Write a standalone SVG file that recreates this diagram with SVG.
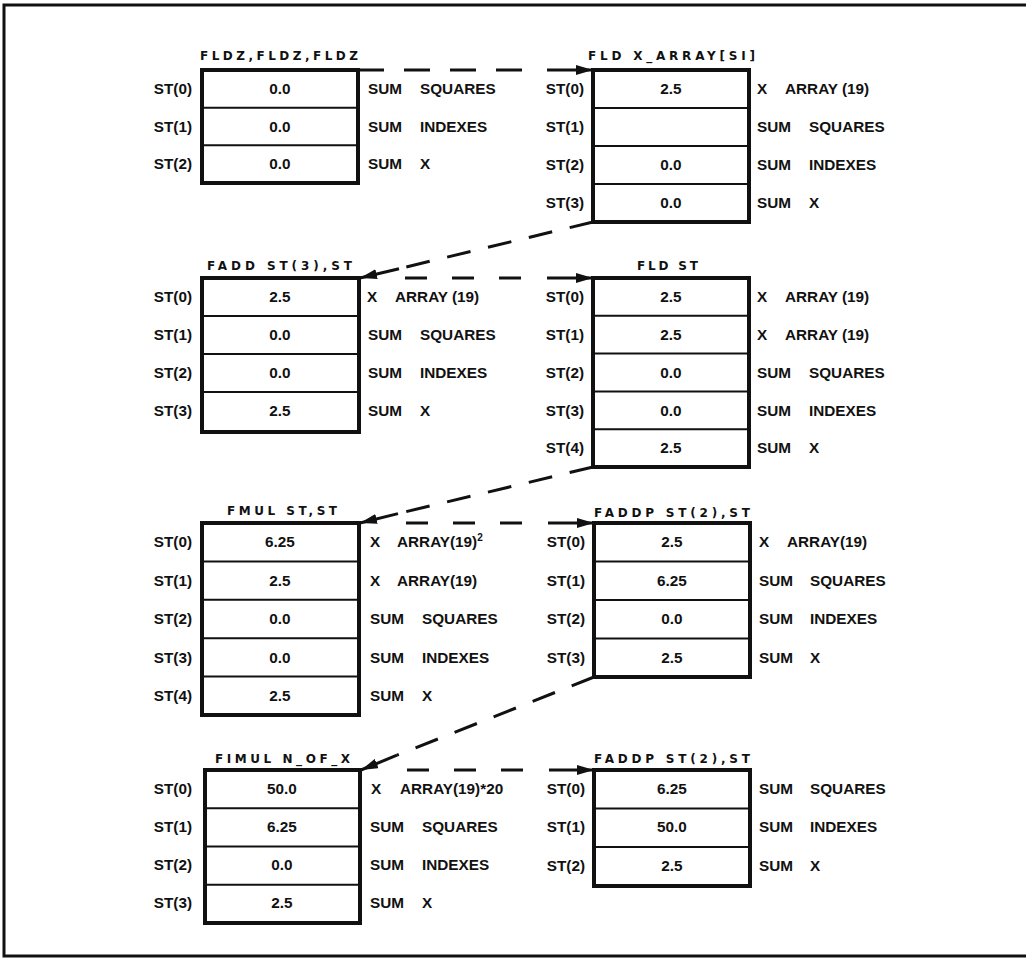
<svg xmlns="http://www.w3.org/2000/svg" width="1026" height="958" viewBox="0 0 1026 958">
<defs>
<style>
.frame{fill:none;stroke:#111;stroke-width:3}
.box{fill:#fff;stroke:#111;stroke-width:4}
.div{stroke:#111;stroke-width:2}
.t{font-family:"Liberation Sans",Arial,sans-serif;font-weight:bold;font-size:15.3px;fill:#111}
.v{text-anchor:middle}
.l{text-anchor:end}
.ttl{font-family:"DejaVu Sans","Liberation Sans",sans-serif;font-weight:bold;font-size:12px;fill:#111}
.dash{fill:none;stroke:#111;stroke-width:3;stroke-dasharray:26 20}
.dash2{fill:none;stroke:#111;stroke-width:3;stroke-dasharray:22 25}
.dd{fill:none;stroke:#111;stroke-width:3;stroke-dasharray:24 18}
.sol{fill:none;stroke:#111;stroke-width:3;marker-end:url(#ah)}
</style>
<marker id="ah" markerUnits="userSpaceOnUse" markerWidth="18" markerHeight="10" refX="17" refY="5" orient="auto">
<path d="M0,0 L17,5 L0,10 z" fill="#111"/>
</marker>
</defs>
<rect width="1026" height="958" fill="#fff"/>
<rect class="frame" x="4" y="5" width="1030" height="951"/>

<g id="connectors">
<path class="dash" d="M358,70 H540"/>
<path class="sol" d="M547,70 H593"/>
<path class="dd" d="M593,222 L399,268.7"/>
<path class="sol" d="M399,268.7 L360,278"/>
<path class="dash2" d="M405,278 H524"/>
<path class="sol" d="M547,278 H593"/>
<path class="dd" d="M593,467 L398,513.6"/>
<path class="sol" d="M398,513.6 L360,523"/>
<path class="dash2" d="M406,523 H525"/>
<path class="sol" d="M548,523 H594"/>
<path class="dd" d="M594,677 L397,755.2"/>
<path class="sol" d="M397,755.2 L361,770"/>
<path class="dash2" d="M407,770 H526"/>
<path class="sol" d="M549,770 H594"/>
</g>

<g id="s1">
<text class="ttl" x="200" y="60" textLength="158" lengthAdjust="spacing">FLDZ,FLDZ,FLDZ</text>
<rect class="box" x="202" y="70" width="156" height="113"/>
<line class="div" x1="202" y1="107.7" x2="358" y2="107.7"/>
<line class="div" x1="202" y1="145.3" x2="358" y2="145.3"/>
<text class="t l" x="192" y="94">ST(0)</text><text class="t v" x="280" y="94">0.0</text><text class="t" x="368" y="94">SUM</text><text class="t" x="420" y="94">SQUARES</text>
<text class="t l" x="192" y="132">ST(1)</text><text class="t v" x="280" y="132">0.0</text><text class="t" x="368" y="132">SUM</text><text class="t" x="420" y="132">INDEXES</text>
<text class="t l" x="192" y="169">ST(2)</text><text class="t v" x="280" y="169">0.0</text><text class="t" x="368" y="169">SUM</text><text class="t" x="420" y="169">X</text>
</g>

<g id="s2">
<text class="ttl" x="588" y="60" textLength="167" lengthAdjust="spacing">FLD X_ARRAY[SI]</text>
<rect class="box" x="593" y="70" width="156" height="152"/>
<line class="div" x1="593" y1="108" x2="749" y2="108"/>
<line class="div" x1="593" y1="146" x2="749" y2="146"/>
<line class="div" x1="593" y1="184" x2="749" y2="184"/>
<text class="t l" x="584" y="94">ST(0)</text><text class="t v" x="671" y="94">2.5</text><text class="t" x="757" y="94">X</text><text class="t" x="785" y="94">ARRAY (19)</text>
<text class="t l" x="584" y="132">ST(1)</text><text class="t" x="757" y="132">SUM</text><text class="t" x="809" y="132">SQUARES</text>
<text class="t l" x="584" y="170">ST(2)</text><text class="t v" x="671" y="170">0.0</text><text class="t" x="757" y="170">SUM</text><text class="t" x="809" y="170">INDEXES</text>
<text class="t l" x="584" y="208">ST(3)</text><text class="t v" x="671" y="208">0.0</text><text class="t" x="757" y="208">SUM</text><text class="t" x="809" y="208">X</text>
</g>

<g id="s3">
<text class="ttl" x="207" y="270" textLength="145" lengthAdjust="spacing">FADD ST(3),ST</text>
<rect class="box" x="202" y="278" width="157" height="154"/>
<line class="div" x1="202" y1="316" x2="359" y2="316"/>
<line class="div" x1="202" y1="354" x2="359" y2="354"/>
<line class="div" x1="202" y1="392" x2="359" y2="392"/>
<text class="t l" x="192" y="302">ST(0)</text><text class="t v" x="280" y="302">2.5</text><text class="t" x="367" y="302">X</text><text class="t" x="395" y="302">ARRAY (19)</text>
<text class="t l" x="192" y="340">ST(1)</text><text class="t v" x="280" y="340">0.0</text><text class="t" x="368" y="340">SUM</text><text class="t" x="420" y="340">SQUARES</text>
<text class="t l" x="192" y="378">ST(2)</text><text class="t v" x="280" y="378">0.0</text><text class="t" x="368" y="378">SUM</text><text class="t" x="420" y="378">INDEXES</text>
<text class="t l" x="192" y="416">ST(3)</text><text class="t v" x="280" y="416">2.5</text><text class="t" x="368" y="416">SUM</text><text class="t" x="420" y="416">X</text>
</g>

<g id="s4">
<text class="ttl" x="637" y="270" textLength="61" lengthAdjust="spacing">FLD ST</text>
<rect class="box" x="593" y="278" width="156" height="189"/>
<line class="div" x1="593" y1="315.8" x2="749" y2="315.8"/>
<line class="div" x1="593" y1="353.6" x2="749" y2="353.6"/>
<line class="div" x1="593" y1="391.4" x2="749" y2="391.4"/>
<line class="div" x1="593" y1="429.2" x2="749" y2="429.2"/>
<text class="t l" x="584" y="302">ST(0)</text><text class="t v" x="671" y="302">2.5</text><text class="t" x="757" y="302">X</text><text class="t" x="785" y="302">ARRAY (19)</text>
<text class="t l" x="584" y="340">ST(1)</text><text class="t v" x="671" y="340">2.5</text><text class="t" x="757" y="340">X</text><text class="t" x="785" y="340">ARRAY (19)</text>
<text class="t l" x="584" y="378">ST(2)</text><text class="t v" x="671" y="378">0.0</text><text class="t" x="757" y="378">SUM</text><text class="t" x="809" y="378">SQUARES</text>
<text class="t l" x="584" y="416">ST(3)</text><text class="t v" x="671" y="416">0.0</text><text class="t" x="757" y="416">SUM</text><text class="t" x="809" y="416">INDEXES</text>
<text class="t l" x="584" y="453">ST(4)</text><text class="t v" x="671" y="453">2.5</text><text class="t" x="757" y="453">SUM</text><text class="t" x="809" y="453">X</text>
</g>

<g id="s5">
<text class="ttl" x="227" y="515" textLength="110" lengthAdjust="spacing">FMUL ST,ST</text>
<rect class="box" x="202" y="523" width="157" height="192"/>
<line class="div" x1="202" y1="561.4" x2="359" y2="561.4"/>
<line class="div" x1="202" y1="599.8" x2="359" y2="599.8"/>
<line class="div" x1="202" y1="638.2" x2="359" y2="638.2"/>
<line class="div" x1="202" y1="676.6" x2="359" y2="676.6"/>
<text class="t l" x="192" y="547">ST(0)</text><text class="t v" x="280" y="547">6.25</text><text class="t" x="370" y="547">X</text><text class="t" x="397" y="547">ARRAY(19)<tspan font-size="10" dy="-6">2</tspan></text>
<text class="t l" x="192" y="586">ST(1)</text><text class="t v" x="280" y="586">2.5</text><text class="t" x="370" y="586">X</text><text class="t" x="397" y="586">ARRAY(19)</text>
<text class="t l" x="192" y="624">ST(2)</text><text class="t v" x="280" y="624">0.0</text><text class="t" x="370" y="624">SUM</text><text class="t" x="422" y="624">SQUARES</text>
<text class="t l" x="192" y="663">ST(3)</text><text class="t v" x="280" y="663">0.0</text><text class="t" x="370" y="663">SUM</text><text class="t" x="422" y="663">INDEXES</text>
<text class="t l" x="192" y="701">ST(4)</text><text class="t v" x="280" y="701">2.5</text><text class="t" x="370" y="701">SUM</text><text class="t" x="422" y="701">X</text>
</g>

<g id="s6">
<text class="ttl" x="594" y="517" textLength="156" lengthAdjust="spacing">FADDP ST(2),ST</text>
<rect class="box" x="594" y="523" width="156" height="154"/>
<line class="div" x1="594" y1="561.5" x2="750" y2="561.5"/>
<line class="div" x1="594" y1="600" x2="750" y2="600"/>
<line class="div" x1="594" y1="638.5" x2="750" y2="638.5"/>
<text class="t l" x="585" y="547">ST(0)</text><text class="t v" x="672" y="547">2.5</text><text class="t" x="759" y="547">X</text><text class="t" x="787" y="547">ARRAY(19)</text>
<text class="t l" x="585" y="586">ST(1)</text><text class="t v" x="672" y="586">6.25</text><text class="t" x="759" y="586">SUM</text><text class="t" x="810" y="586">SQUARES</text>
<text class="t l" x="585" y="624">ST(2)</text><text class="t v" x="672" y="624">0.0</text><text class="t" x="759" y="624">SUM</text><text class="t" x="810" y="624">INDEXES</text>
<text class="t l" x="585" y="663">ST(3)</text><text class="t v" x="672" y="663">2.5</text><text class="t" x="759" y="663">SUM</text><text class="t" x="810" y="663">X</text>
</g>

<g id="s7">
<text class="ttl" x="215" y="763" textLength="135" lengthAdjust="spacing">FIMUL N_OF_X</text>
<rect class="box" x="205" y="770" width="155" height="153"/>
<line class="div" x1="205" y1="808.3" x2="360" y2="808.3"/>
<line class="div" x1="205" y1="846.5" x2="360" y2="846.5"/>
<line class="div" x1="205" y1="884.8" x2="360" y2="884.8"/>
<text class="t l" x="192" y="794">ST(0)</text><text class="t v" x="282" y="794">50.0</text><text class="t" x="371" y="794">X</text><text class="t" x="400" y="794">ARRAY(19)*20</text>
<text class="t l" x="192" y="832">ST(1)</text><text class="t v" x="282" y="832">6.25</text><text class="t" x="370" y="832">SUM</text><text class="t" x="422" y="832">SQUARES</text>
<text class="t l" x="192" y="870">ST(2)</text><text class="t v" x="282" y="870">0.0</text><text class="t" x="370" y="870">SUM</text><text class="t" x="422" y="870">INDEXES</text>
<text class="t l" x="192" y="908">ST(3)</text><text class="t v" x="282" y="908">2.5</text><text class="t" x="370" y="908">SUM</text><text class="t" x="422" y="908">X</text>
</g>

<g id="s8">
<text class="ttl" x="594" y="763" textLength="156" lengthAdjust="spacing">FADDP ST(2),ST</text>
<rect class="box" x="594" y="770" width="156" height="116"/>
<line class="div" x1="594" y1="808.5" x2="750" y2="808.5"/>
<line class="div" x1="594" y1="847" x2="750" y2="847"/>
<text class="t l" x="585" y="794">ST(0)</text><text class="t v" x="672" y="794">6.25</text><text class="t" x="759" y="794">SUM</text><text class="t" x="810" y="794">SQUARES</text>
<text class="t l" x="585" y="832">ST(1)</text><text class="t v" x="672" y="832">50.0</text><text class="t" x="759" y="832">SUM</text><text class="t" x="810" y="832">INDEXES</text>
<text class="t l" x="585" y="871">ST(2)</text><text class="t v" x="672" y="871">2.5</text><text class="t" x="759" y="871">SUM</text><text class="t" x="810" y="871">X</text>
</g>
</svg>
